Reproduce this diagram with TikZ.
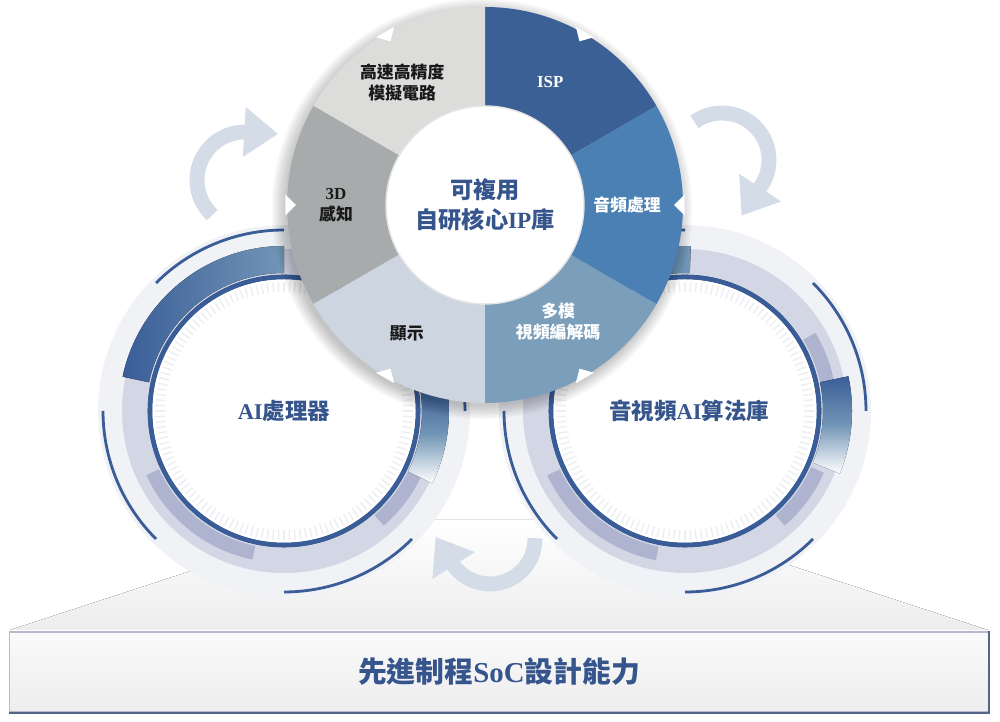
\documentclass[tikz,border=0pt]{standalone}
\usepackage{fontspec}
\setmainfont{Liberation Serif}
\newfontfamily\cjk{Noto Sans CJK TC}
\usetikzlibrary{arrows.meta}

\definecolor{segisp}{HTML}{3B6096}
\definecolor{segaudio}{HTML}{4A80B3}
\definecolor{segcodec}{HTML}{7B9EBA}
\definecolor{segdisp}{HTML}{CDD5E1}
\definecolor{segthreed}{HTML}{A8ABAC}
\definecolor{seganalog}{HTML}{DCDDDB}
\definecolor{textblue}{HTML}{35558C}
\definecolor{ringblue}{HTML}{3A5D98}
\definecolor{bandlight}{HTML}{7296B6}
\definecolor{lavlight}{HTML}{D3D7E5}
\definecolor{lavdark}{HTML}{AEB4CF}
\definecolor{paledisk}{HTML}{F0F2F6}
\definecolor{tickgray}{HTML}{ECEEF2}
\definecolor{arrowgray}{HTML}{D3DCE7}
\definecolor{platgray}{HTML}{EDEDED}
\definecolor{boxedge}{HTML}{56658A}

\newcommand{\lat}[1]{{\rmfamily #1}}
\newcommand{\settore}[5]{([shift={(#2:#4)}]#1) arc[start angle=#2, end angle=#3, radius=#4] -- ([shift={(#3:#5)}]#1) arc[start angle=#3, end angle=#2, radius=#5] -- cycle}

\tikzset{
  seglabel/.style={font=\cjk\bfseries\fontsize{12}{15}\selectfont, align=center, inner sep=0pt, text=black!90},
  corelabel/.style={font=\cjk\bfseries\fontsize{16.5}{21}\selectfont, align=center, text=textblue},
  circlabel/.style={font=\cjk\bfseries\fontsize{16}{20}\selectfont, text=textblue},
  basebox/.style={minimum width=24.45cm, minimum height=2cm, top color=black!2, bottom color=blue!10!black!7,
    draw=boxedge!45, line width=0.8pt, text=textblue, font=\cjk\bfseries\fontsize{20.5}{24}\selectfont},
  cyclearrow/.style={draw=arrowgray, line width=10.6pt, -{Triangle[length=24pt, width=34pt]}}
}

\begin{document}
\begin{tikzpicture}[x=0.025cm, y=0.025cm]
    \useasboundingbox (0,0) rectangle (1000,722);

    % Piattaforma e base
    \fill[top color=white, bottom color=platgray] (10,92) -- (347,202) -- (651,202) -- (988,92) -- cycle;
    \node[basebox] (base) at (499,50) {先進制程\lat{SoC}設計能力};
    \draw[boxedge, line width=1.4pt] (base.south west) -- (base.south east) -- (base.north east);

    % Cerchi inferiori
    \coordinate (ai) at (284,311);
    \coordinate (av) at (685,311);
    \foreach \c in {ai, av} {
        \fill[paledisk] (\c) circle (186);
        \fill[lavlight] \settore{\c}{0}{360}{137}{162};
    }

    % Pezzi lilla scuri
    \foreach \c/\a/\b in {ai/205/258, ai/311/335, av/205/259, av/311/336, av/11/31} {
        \fill[lavdark] \settore{\c}{\a}{\b}{138}{152};
    }

    % Bande blu sfumate
    \fill[left color=ringblue, right color=bandlight] \settore{ai}{90}{168}{138}{165};
    \fill[top color=ringblue, bottom color=white, middle color=bandlight] \settore{ai}{-26}{9}{138}{165};
    \fill[left color=ringblue, right color=bandlight] \settore{av}{88}{140}{138}{165};
    \fill[top color=ringblue, bottom color=white, middle color=bandlight] \settore{av}{-22}{12}{138}{167};

    % Anello principale, tacche e archi sottili
    \foreach \c in {ai, av} {
        \draw[ringblue, line width=3.6pt] (\c) circle (134);
        \fill[white] (\c) circle (131.5);
        \foreach \t in {0,2.5,...,357.5} {
            \draw[tickgray, line width=1pt] ([shift={(\t:119)}]\c) -- ([shift={(\t:129)}]\c);
        }
        \foreach \a in {0,90,180,270} {
            \draw[ringblue, line width=2pt] ([shift={(\a:181)}]\c) arc[start angle=\a, delta angle=45, radius=181];
        }
    }
    \node[circlabel] (ailab) at (ai) {\lat{AI}處理器};
    \node[circlabel] (avlab) at ([xshift=3]av) {音視頻\lat{AI}算法庫};

    % Frecce circolari
    \coordinate (tlarrow) at (245,542);
    \coordinate (trarrow) at (722,562);
    \coordinate (botarrow) at (490,183);
    \draw[cyclearrow] ([shift={(227:48)}]tlarrow) arc[start angle=227, end angle=90, radius=48] -- ++(33,-2);
    \draw[cyclearrow] ([shift={(126:47)}]trarrow) arc[start angle=126, end angle=-34, radius=47] -- ++(-19.5,-29.5);
    \draw[cyclearrow] ([shift={(1:45)}]botarrow) arc[start angle=1, end angle=-144, radius=45] -- ++(-18,28.5);

    % Ruota centrale: ombra
    \coordinate (wheel) at (485,517);
    \foreach \k in {1,...,12} {
        \fill[black, opacity=0.02] ([shift={(-3,-4)}]wheel) circle (196+\k*1.2);
    }

    % Settori
    \foreach \a/\col in {30/segisp, 90/seganalog, 150/segthreed, 210/segdisp, 270/segcodec, 330/segaudio} {
        \pgfmathsetmacro{\b}{\a+60}
        \fill[\col] \settore{wheel}{\a}{\b}{99}{198};
    }

    % Intagli sul bordo
    \foreach \m in {0,60,...,300} {
        \fill[white] ([shift={(\m:189)}]wheel) -- ([shift={(\m+3:200)}]wheel) -- ([shift={(\m-3:200)}]wheel) -- cycle;
    }

    % Centro bianco
    \fill[white] (wheel) circle (99);
    \draw[black!10, line width=1pt] (wheel) circle (99);

    % Etichette dei settori
    \node[seglabel] (analog) at ([shift={(124:148)}]wheel) {高速高精度\\模擬電路};
    \node[seglabel, text=white] (isp) at ([shift={(62:139)}]wheel) {\lat{ISP}};
    \node[seglabel] (threed) at ([shift={(180:149)}]wheel) {\lat{3D}\\感知};
    \node[seglabel, text=white] (audio) at ([shift={(0:142)}]wheel) {音頻處理};
    \node[seglabel] (disp) at ([shift={(238.6:150)}]wheel) {顯示};
    \node[seglabel, text=white] (codec) at ([shift={(302:138)}]wheel) {多模\\視頻編解碼};
    \node[corelabel] (core) at (wheel) {可複用\\自研核心\lat{IP}庫};
\end{tikzpicture}
\end{document}
